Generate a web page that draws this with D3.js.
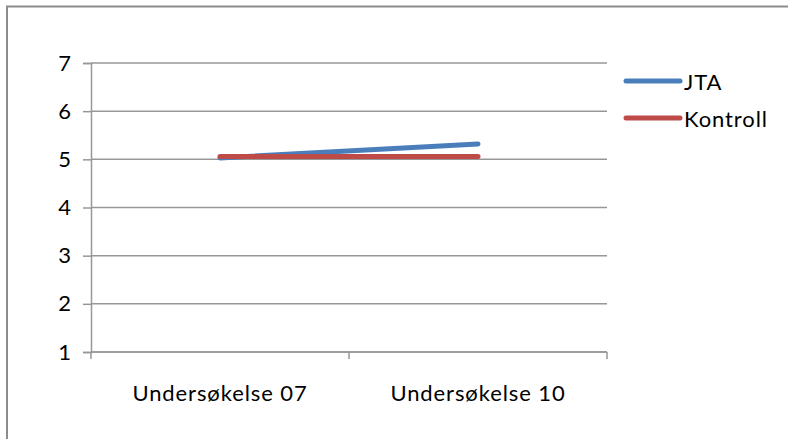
<!DOCTYPE html>
<html>
<head>
<meta charset="utf-8">
<script src="https://cdn.jsdelivr.net/npm/d3@7"></script>
<style>
  html, body { margin: 0; padding: 0; background: #fff; }
  svg { display: block; }
  text { font-family: Lato, "Open Sans", sans-serif; fill: #000; letter-spacing: 0.9px; }
</style>
</head>
<body>
<svg id="chart" width="788" height="439"></svg>
<script>
// Survey rounds on the x axis
const categories = ["Undersøkelse 07", "Undersøkelse 10"];
// Mean scores per group
const jtaValues = [5.03, 5.32];
const kontrollValues = [5.06, 5.06];
const seriesNames = ["JTA", "Kontroll"];
const seriesColors = ["#4a7ebb", "#be4b48"];
const yTicks = [1, 2, 3, 4, 5, 6, 7];

const svg = d3.select("#chart");
const W = 788, H = 439;
const margin = { left: 91, right: W - 607, top: 63, bottom: H - 352 };
const fontSize = 22;

// Outer chart frame
svg.append("rect")
  .attr("x", 7).attr("y", 6.5)
  .attr("width", W + 20).attr("height", H + 20)
  .attr("fill", "none")
  .attr("stroke", "#8c8c8c")
  .attr("stroke-width", 2);

const x = d3.scaleBand().domain(categories).range([margin.left, W - margin.right]);
const y = d3.scaleLinear().domain([1, 7]).range([H - margin.bottom, margin.top]);

// Horizontal gridlines
svg.append("g").selectAll("line")
  .data(yTicks)
  .join("line")
  .attr("x1", margin.left).attr("x2", W - margin.right)
  .attr("y1", d => y(d)).attr("y2", d => y(d))
  .attr("stroke", "#979797")
  .attr("stroke-width", 1.5);

// Y axis
const yAxis = d3.axisLeft(y).tickValues(yTicks).tickSize(8).tickPadding(11).tickFormat(d3.format("d"));
const gy = svg.append("g").attr("transform", `translate(${margin.left},0)`).call(yAxis);
gy.select(".domain").attr("stroke", "#979797").attr("stroke-width", 1.5);
gy.selectAll(".tick line").attr("stroke", "#979797").attr("stroke-width", 1.5);
gy.selectAll(".tick text").attr("font-size", fontSize).attr("font-family", "Lato, sans-serif").attr("fill", "#000");

// X axis: ticks on band boundaries, labels at band centres
const xAxisY = H - margin.bottom;
svg.append("line")
  .attr("x1", margin.left).attr("x2", W - margin.right)
  .attr("y1", xAxisY).attr("y2", xAxisY)
  .attr("stroke", "#979797").attr("stroke-width", 1.5);
const boundaries = categories.map(c => x(c)).concat([x(categories[categories.length - 1]) + x.bandwidth()]);
svg.append("g").selectAll("line")
  .data(boundaries)
  .join("line")
  .attr("x1", d => d).attr("x2", d => d)
  .attr("y1", xAxisY).attr("y2", xAxisY + 7)
  .attr("stroke", "#979797").attr("stroke-width", 1.5);
svg.append("g").selectAll("text")
  .data(categories)
  .join("text")
  .attr("x", d => x(d) + x.bandwidth() / 2)
  .attr("y", 392)
  .attr("text-anchor", "middle")
  .attr("dominant-baseline", "central")
  .attr("font-size", fontSize)
  .text(d => d);

// Series lines
const series = [
  { name: seriesNames[0], values: jtaValues, color: seriesColors[0] },
  { name: seriesNames[1], values: kontrollValues, color: seriesColors[1] }
];
const line = d3.line()
  .x((d, i) => x(categories[i]) + x.bandwidth() / 2)
  .y(d => y(d));
svg.append("g").selectAll("path")
  .data(series)
  .join("path")
  .attr("d", d => line(d.values))
  .attr("fill", "none")
  .attr("stroke", d => d.color)
  .attr("stroke-width", 5)
  .attr("stroke-linecap", "round");

// Legend
const legend = svg.append("g").selectAll("g")
  .data(series)
  .join("g")
  .attr("transform", (d, i) => `translate(626,${81 + i * 37})`);
legend.append("line")
  .attr("x1", 0).attr("x2", 54)
  .attr("stroke", d => d.color)
  .attr("stroke-width", 5)
  .attr("stroke-linecap", "round");
legend.append("text")
  .attr("x", 58)
  .attr("dominant-baseline", "central")
  .attr("font-size", fontSize)
  .text(d => d.name);
</script>
</body>
</html>
